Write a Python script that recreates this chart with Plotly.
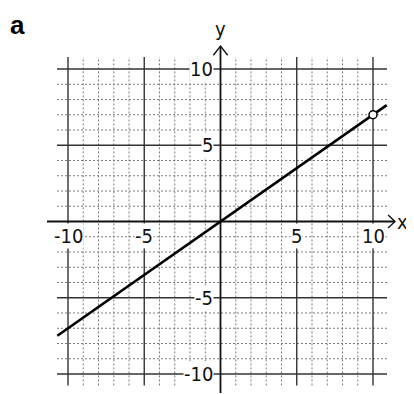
import plotly.graph_objects as go

# ---- data ----
major_ticks = [-10, -5, 5, 10]
tick_labels = ["-10", "-5", "5", "10"]
minor_ticks = [-9, -8, -7, -6, -4, -3, -2, -1, 1, 2, 3, 4, 6, 7, 8, 9]
grid_x_extent = [-10.72, 10.92]
grid_y_extent = [-10.75, 10.78]
x_axis_extent = [-11.38, 11.44]
y_axis_extent = [-11.25, 11.5]
line_x = [-10.7, 10.9]
line_y = [-7.49, 7.63]
open_point_x = [10]
open_point_y = [7]

# page has an 8px body margin; figure is 406x386 placed at (8,8)
W, H = 406, 386
S = 15.25
OX, OY = 212.5, 213.5  # origin in figure pixels
xr = [-OX / S, (W - OX) / S]
yr = [(OY - H) / S, OY / S]

fig = go.Figure()

def seg_lines(vals, ext, vertical):
    xs, ys = [], []
    for v in vals:
        if vertical:
            xs += [v, v, None]
            ys += [ext[0], ext[1], None]
        else:
            xs += [ext[0], ext[1], None]
            ys += [v, v, None]
    return xs, ys

# minor dotted grid
for vertical, ext in [(True, grid_y_extent), (False, grid_x_extent)]:
    xs, ys = seg_lines(minor_ticks, ext, vertical)
    fig.add_trace(go.Scatter(x=xs, y=ys, mode="lines", hoverinfo="skip",
                             line=dict(color="#7a7a7a", width=1, dash="2px,2px"),
                             showlegend=False))
# major grid
for vertical, ext in [(True, grid_y_extent), (False, grid_x_extent)]:
    xs, ys = seg_lines(major_ticks, ext, vertical)
    fig.add_trace(go.Scatter(x=xs, y=ys, mode="lines", hoverinfo="skip",
                             line=dict(color="#333333", width=1.4),
                             showlegend=False))

# axes
fig.add_trace(go.Scatter(x=x_axis_extent, y=[0, 0], mode="lines", hoverinfo="skip",
                         line=dict(color="#111", width=1.8), showlegend=False))
fig.add_trace(go.Scatter(x=[0, 0], y=y_axis_extent, mode="lines", hoverinfo="skip",
                         line=dict(color="#111", width=1.8), showlegend=False))
# arrowheads (open chevrons)
xt = x_axis_extent[1]
fig.add_trace(go.Scatter(x=[xt - 0.45, xt, xt - 0.45], y=[0.42, 0, -0.42], mode="lines",
                         hoverinfo="skip", line=dict(color="#111", width=1.4), showlegend=False))
yt = y_axis_extent[1]
fig.add_trace(go.Scatter(x=[-0.47, 0, 0.47], y=[yt - 0.6, yt, yt - 0.6], mode="lines",
                         hoverinfo="skip", line=dict(color="#111", width=1.4), showlegend=False))

# function line
fig.add_trace(go.Scatter(x=line_x, y=line_y, mode="lines",
                         line=dict(color="#000", width=2.6), showlegend=False))
fig.add_trace(go.Scatter(x=open_point_x, y=open_point_y, mode="markers",
                         marker=dict(symbol="circle", size=8, color="white",
                                     line=dict(color="#000", width=1.5)),
                         showlegend=False))

font_ticks = dict(family="DejaVu Sans Condensed, Liberation Sans, Arial", size=20, color="#111")
annotations = []
for v, t in zip(major_ticks, tick_labels):
    annotations.append(dict(x=v, y=-0.95, xref="x", yref="y", text=t, showarrow=False,
                            xanchor="center", yanchor="middle", font=font_ticks,
                            bgcolor="white", borderpad=0))
    annotations.append(dict(x=-0.4, y=v, xref="x", yref="y", text=t, showarrow=False,
                            xanchor="right", yanchor="middle", font=font_ticks,
                            bgcolor="white", borderpad=0))
annotations.append(dict(x=11.95, y=0, xref="x", yref="y", text="x", showarrow=False,
                        xanchor="center", yanchor="middle", font=font_ticks))
annotations.append(dict(x=0, y=12.6, xref="x", yref="y", text="y", showarrow=False,
                        xanchor="center", yanchor="middle", font=font_ticks))
annotations.append(dict(x=0, y=1, xref="paper", yref="paper", text="<b>a</b>",
                        showarrow=False, xanchor="left", yanchor="top",
                        font=dict(family="Liberation Sans, Arial", size=26, color="#000")))

fig.update_layout(
    width=W, height=H,
    margin=dict(l=0, r=0, t=0, b=0),
    paper_bgcolor="white", plot_bgcolor="white",
    xaxis=dict(range=xr, visible=False, fixedrange=True),
    yaxis=dict(range=yr, visible=False, fixedrange=True),
    annotations=annotations,
    showlegend=False,
)

fig.write_html("out.html")
